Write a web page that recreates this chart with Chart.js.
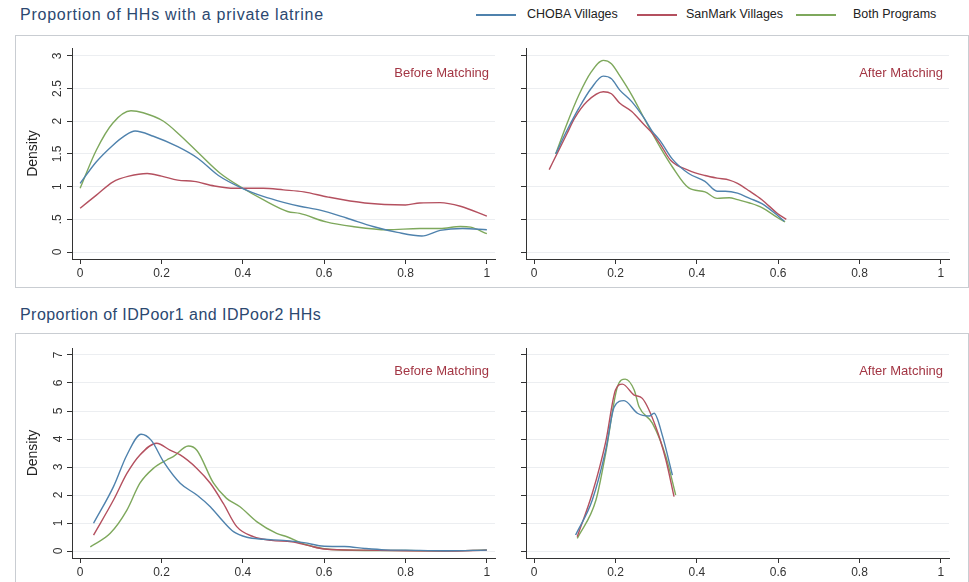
<!DOCTYPE html>
<html>
<head>
<meta charset="utf-8">
<script src="https://cdn.jsdelivr.net/npm/chart.js@4.4.0/dist/chart.umd.min.js"></script>
<style>
  body { margin: 0; width: 969px; height: 582px; overflow: hidden; background: #fff;
         font-family: "Liberation Sans", Arial, sans-serif; position: relative; }
  .title { position: absolute; left: 20px; font-size: 16px; letter-spacing: 0.45px; color: #2b4870; white-space: nowrap; }
  .box { position: absolute; left: 15px; width: 952px; border: 1px solid #c9cdd2; }
  .key { position: absolute; top: 7px; font-size: 12.5px; color: #222; white-space: nowrap; }
  .swatch { position: absolute; top: 14px; width: 40px; height: 1.6px; }
  .panel { position: absolute; }
</style>
</head>
<body>
<div class="box" style="top:35px;height:251px"></div>
<div class="box" style="top:333px;height:260px"></div>

<div class="title" style="top:6px;letter-spacing:0.75px">Proportion of HHs with a private latrine</div>
<div class="title" style="top:306px">Proportion of IDPoor1 and IDPoor2 HHs</div>

<div id="legend"></div>

<canvas id="c1" class="panel" style="left:16px;top:40px" width="484" height="245"></canvas>
<canvas id="c2" class="panel" style="left:500px;top:40px" width="455" height="245"></canvas>
<canvas id="c3" class="panel" style="left:16px;top:340px" width="484" height="242"></canvas>
<canvas id="c4" class="panel" style="left:500px;top:340px" width="455" height="242"></canvas>

<script>
// series names and colours
var seriesNames = ['CHOBA Villages', 'SanMark Villages', 'Both Programs'];
var seriesColors = ['#4f82ad', '#b4505f', '#7ea85c'];

// tick values and labels
var xTicks = [0, 0.2, 0.4, 0.6, 0.8, 1];
var xTickLabels = ['0', '0.2', '0.4', '0.6', '0.8', '1'];
var latrineTicks = [0, 0.5, 1, 1.5, 2, 2.5, 3];
var latrineTickLabels = ['0', '.5', '1', '1.5', '2', '2.5', '3'];
var poorTicks = [0, 1, 2, 3, 4, 5, 6, 7];
var poorTickLabels = ['0', '1', '2', '3', '4', '5', '6', '7'];

// private latrine, before matching: [proportion, density]
var chobaLatrineBefore = [[0,1.05],[0.04,1.38],[0.08,1.63],[0.11,1.78],[0.135,1.85],[0.18,1.77],[0.24,1.61],[0.29,1.43],[0.34,1.17],[0.4,0.97],[0.45,0.85],[0.5,0.76],[0.54,0.70],[0.59,0.64],[0.655,0.52],[0.72,0.39],[0.78,0.30],[0.84,0.245],[0.885,0.33],[0.94,0.36],[1.0,0.34]];
var sanmarkLatrineBefore = [[0,0.67],[0.04,0.87],[0.08,1.07],[0.12,1.16],[0.165,1.2],[0.2,1.16],[0.24,1.1],[0.28,1.08],[0.33,1.01],[0.38,0.975],[0.45,0.975],[0.5,0.95],[0.55,0.92],[0.61,0.84],[0.7,0.75],[0.8,0.72],[0.835,0.75],[0.885,0.755],[0.935,0.70],[1.0,0.55]];
var bothLatrineBefore = [[0,0.975],[0.04,1.56],[0.08,1.97],[0.125,2.16],[0.155,2.13],[0.205,2.0],[0.245,1.79],[0.295,1.49],[0.345,1.2],[0.4,0.975],[0.45,0.8],[0.51,0.62],[0.54,0.59],[0.605,0.46],[0.67,0.39],[0.755,0.34],[0.835,0.36],[0.885,0.36],[0.935,0.39],[0.96,0.38],[1.0,0.28]];

// private latrine, after matching
var chobaLatrineAfter = [[0.053,1.5],[0.08,1.85],[0.11,2.2],[0.14,2.5],[0.17,2.69],[0.19,2.65],[0.21,2.48],[0.24,2.3],[0.27,2.05],[0.29,1.85],[0.31,1.7],[0.34,1.42],[0.38,1.2],[0.42,1.08],[0.45,0.93],[0.47,0.93],[0.5,0.9],[0.53,0.82],[0.56,0.74],[0.6,0.55],[0.615,0.47]];
var sanmarkLatrineAfter = [[0.037,1.26],[0.06,1.55],[0.08,1.8],[0.1,2.05],[0.13,2.3],[0.17,2.45],[0.19,2.42],[0.21,2.28],[0.24,2.15],[0.27,1.95],[0.29,1.82],[0.31,1.65],[0.336,1.4],[0.38,1.25],[0.42,1.17],[0.45,1.13],[0.48,1.1],[0.5,1.05],[0.53,0.93],[0.56,0.8],[0.6,0.58],[0.62,0.5]];
var bothLatrineAfter = [[0.053,1.5],[0.08,1.95],[0.11,2.4],[0.14,2.75],[0.17,2.93],[0.19,2.88],[0.21,2.7],[0.24,2.4],[0.27,2.05],[0.29,1.82],[0.31,1.6],[0.34,1.3],[0.38,0.98],[0.42,0.92],[0.45,0.82],[0.48,0.83],[0.5,0.8],[0.53,0.75],[0.56,0.68],[0.6,0.52],[0.617,0.46]];

// IDPoor1 and IDPoor2, before matching
var chobaPoorBefore = [[0.033,0.99],[0.082,2.3],[0.115,3.43],[0.15,4.17],[0.175,3.95],[0.205,3.19],[0.246,2.42],[0.287,2.0],[0.32,1.58],[0.352,1.05],[0.377,0.69],[0.41,0.49],[0.45,0.42],[0.5,0.38],[0.55,0.3],[0.6,0.17],[0.65,0.16],[0.7,0.09],[0.75,0.04],[0.8,0.03],[0.9,0.01],[1.0,0.03]];
var sanmarkPoorBefore = [[0.033,0.57],[0.082,1.82],[0.115,2.77],[0.147,3.43],[0.188,3.85],[0.221,3.6],[0.246,3.43],[0.287,2.95],[0.32,2.42],[0.352,1.7],[0.385,0.87],[0.426,0.51],[0.47,0.38],[0.52,0.33],[0.56,0.2],[0.6,0.07],[0.7,0.03],[0.8,0.01],[0.9,0.0],[1.0,0.03]];
var bothPoorBefore = [[0.025,0.15],[0.074,0.63],[0.115,1.46],[0.147,2.42],[0.18,2.95],[0.213,3.25],[0.229,3.37],[0.266,3.75],[0.287,3.6],[0.328,2.42],[0.36,1.88],[0.393,1.58],[0.434,1.05],[0.483,0.63],[0.51,0.5],[0.55,0.25],[0.6,0.08],[0.7,0.02],[0.8,0.02],[0.9,0.0],[1.0,0.04]];

// IDPoor1 and IDPoor2, after matching
var chobaPoorAfter = [[0.102,0.57],[0.143,1.82],[0.176,3.6],[0.197,5.15],[0.221,5.37],[0.254,4.92],[0.283,4.82],[0.295,4.92],[0.315,4.14],[0.34,2.71]];
var sanmarkPoorAfter = [[0.106,0.51],[0.143,2.06],[0.176,3.9],[0.2,5.75],[0.217,5.96],[0.246,5.57],[0.266,5.45],[0.299,4.44],[0.324,3.25],[0.344,1.94]];
var bothPoorAfter = [[0.106,0.45],[0.152,1.82],[0.176,3.5],[0.205,5.87],[0.224,6.14],[0.246,5.75],[0.258,5.15],[0.291,4.56],[0.324,3.37],[0.348,2.0]];

// legend (html)
var swatchX = [476, 637, 796];
var keyX = [527, 686, 853];
var legend = document.getElementById('legend');
seriesNames.forEach(function (name, i) {
    var sw = document.createElement('div');
    sw.className = 'swatch';
    sw.style.left = swatchX[i] + 'px';
    sw.style.background = seriesColors[i];
    legend.appendChild(sw);
    var k = document.createElement('div');
    k.className = 'key';
    k.style.left = keyX[i] + 'px';
    k.textContent = name;
    legend.appendChild(k);
});

// corner label inside the plot area
var cornerLabel = {
    id: 'cornerLabel',
    afterDraw: function (chart, args, opts) {
        var ctx = chart.ctx, area = chart.chartArea;
        ctx.save();
        ctx.font = '13px "Liberation Sans", Arial, sans-serif';
        ctx.fillStyle = '#a33644';
        ctx.textAlign = 'right';
        ctx.textBaseline = 'middle';
        ctx.fillText(opts.text, area.right - 6, area.top + opts.dy);
        ctx.restore();
    }
};

function toPoints(arr) {
    return arr.map(function (p) { return { x: p[0], y: p[1] }; });
}

function makePanel(id, series, cfg) {
    var datasets = series.map(function (s, i) {
        return {
            label: seriesNames[i],
            data: toPoints(s),
            borderColor: seriesColors[i],
            borderWidth: 1.4,
            pointRadius: 0,
            fill: false,
            cubicInterpolationMode: 'monotone'
        };
    });

    new Chart(document.getElementById(id), {
        type: 'line',
        data: { datasets: datasets },
        plugins: [cornerLabel],
        options: {
            responsive: false,
            animation: false,
            devicePixelRatio: 1,
            layout: { padding: { top: 8, right: cfg.right, left: 0, bottom: 0 } },
            plugins: {
                legend: { display: false },
                tooltip: { enabled: false },
                cornerLabel: { text: cfg.label, dy: cfg.dy }
            },
            scales: {
                x: {
                    type: 'linear',
                    min: -0.02,
                    max: 1.02,
                    afterBuildTicks: function (scale) {
                        scale.ticks = xTicks.map(function (v) { return { value: v }; });
                    },
                    afterFit: function (scale) {
                        scale.height = cfg.xHeight;
                        scale.paddingLeft = 0;
                        scale.paddingRight = 0;
                    },
                    ticks: {
                        padding: 2,
                        color: '#333',
                        font: { size: 12, family: '"Liberation Sans", Arial, sans-serif' },
                        callback: function (v) { return xTickLabels[xTicks.indexOf(v)]; }
                    },
                    grid: { drawOnChartArea: false, tickLength: 5, tickColor: '#333' },
                    border: { color: '#333', width: 1 }
                },
                y: {
                    type: 'linear',
                    min: cfg.yMin,
                    max: cfg.yMax,
                    afterBuildTicks: function (scale) {
                        scale.ticks = cfg.yTicks.map(function (v) { return { value: v }; });
                    },
                    afterFit: function (scale) {
                        scale.width = cfg.yWidth;
                        scale.paddingTop = 0;
                        scale.paddingBottom = 0;
                    },
                    title: {
                        display: cfg.showLabels,
                        text: 'Density',
                        color: '#222',
                        font: { size: 14, family: '"Liberation Sans", Arial, sans-serif' },
                        padding: { top: 9, bottom: 0 }
                    },
                    ticks: {
                        display: cfg.showLabels,
                        minRotation: 90,
                        maxRotation: 90,
                        crossAlign: 'center',
                        padding: cfg.yPad,
                        color: '#333',
                        font: { size: 12, family: '"Liberation Sans", Arial, sans-serif' },
                        callback: function (v) { return cfg.yTickLabels[cfg.yTicks.indexOf(v)]; }
                    },
                    grid: { color: '#eceef1', lineWidth: 1, tickLength: 5, tickColor: '#333' },
                    border: { color: '#333', width: 1 }
                }
            }
        }
    });
}

var topCfg = { yMin: -0.107, yMax: 3.12, yTicks: latrineTicks, yTickLabels: latrineTickLabels, xHeight: 26, dy: 25, yPad: 1 };
var botCfg = { yMin: -0.25, yMax: 7.25, yTicks: poorTicks, yTickLabels: poorTickLabels, xHeight: 24, dy: 23, yPad: 5 };

makePanel('c1', [chobaLatrineBefore, sanmarkLatrineBefore, bothLatrineBefore],
    Object.assign({}, topCfg, { label: 'Before Matching', showLabels: true, yWidth: 56, right: 5 }));
makePanel('c2', [chobaLatrineAfter, sanmarkLatrineAfter, bothLatrineAfter],
    Object.assign({}, topCfg, { label: 'After Matching', showLabels: false, yWidth: 26, right: 6 }));
makePanel('c3', [chobaPoorBefore, sanmarkPoorBefore, bothPoorBefore],
    Object.assign({}, botCfg, { label: 'Before Matching', showLabels: true, yWidth: 56, right: 5 }));
makePanel('c4', [chobaPoorAfter, sanmarkPoorAfter, bothPoorAfter],
    Object.assign({}, botCfg, { label: 'After Matching', showLabels: false, yWidth: 26, right: 6 }));
</script>
</body>
</html>
